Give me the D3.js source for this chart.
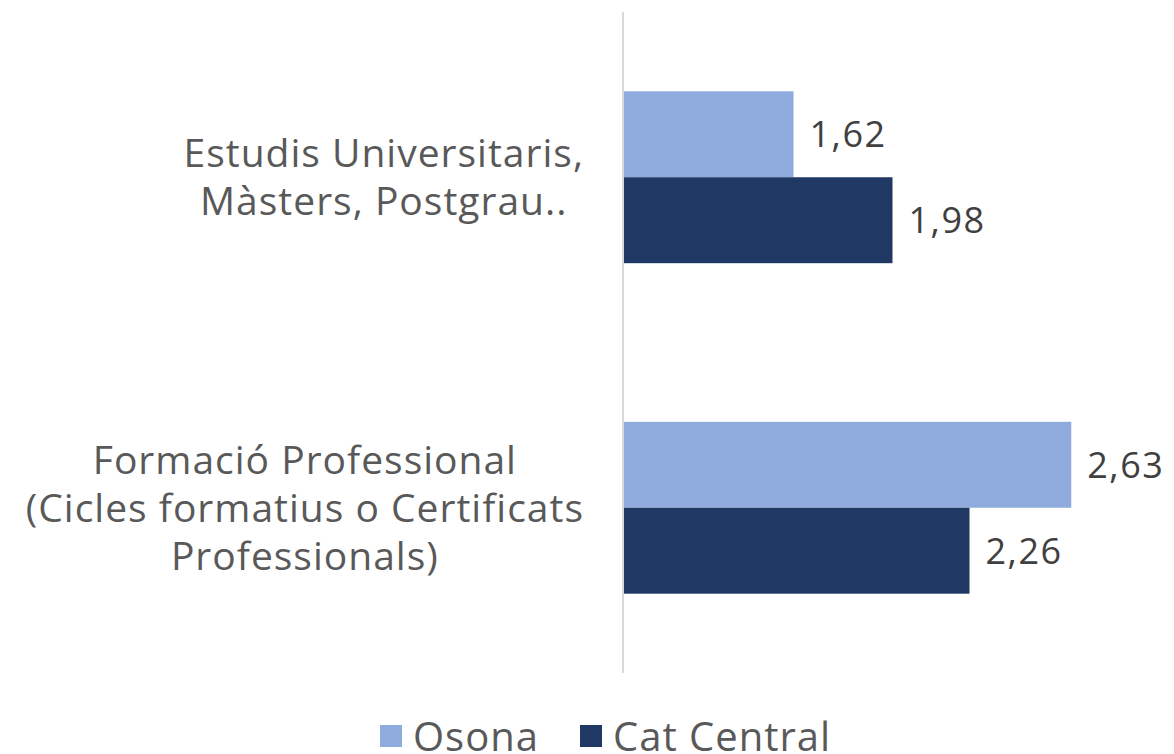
<!DOCTYPE html>
<html lang="ca">
<head>
<meta charset="UTF-8">
<title>Osona vs Cat Central</title>
<script src="https://cdnjs.cloudflare.com/ajax/libs/d3/7.8.5/d3.min.js"></script>
<style>
  html, body { margin: 0; padding: 0; background: #fff; }
  svg { display: block; font-family: "Open Sans", Lato, sans-serif; }
</style>
</head>
<body>
<div id="chart"></div>
<script>
// data
const categories = [
  ["Estudis Universitaris,", "Màsters, Postgrau.."],
  ["Formació Professional", "(Cicles formatius o Certificats", "Professionals)"]
];
const seriesNames = ["Osona", "Cat Central"];
const osona = [1.62, 2.63];
const catCentral = [1.98, 2.26];
const colors = ["#8FAADC", "#203864"];
const xDomain = [1, 3];

const W = 1174, H = 754;
const margin = { top: 12, right: 1, bottom: 81, left: 623 };

const svg = d3.select("#chart").append("svg")
  .attr("width", W).attr("height", H);

const x = d3.scaleLinear().domain(xDomain).range([margin.left, W - margin.right]);
const y = d3.scaleBand().domain(d3.range(categories.length))
  .range([margin.top, H - margin.bottom]).paddingInner(0.48).paddingOuter(0.24);
const ySub = d3.scaleBand().domain(seriesNames).range([0, y.bandwidth()]);

const series = [osona, catCentral];

// bars
seriesNames.forEach((name, s) => {
  const g = svg.append("g");
  g.selectAll("rect")
    .data(series[s])
    .join("rect")
    .attr("x", x(xDomain[0]))
    .attr("y", (d, i) => y(i) + ySub(name))
    .attr("width", d => x(d) - x(xDomain[0]))
    .attr("height", ySub.bandwidth())
    .attr("fill", colors[s]);

  g.selectAll("text")
    .data(series[s])
    .join("text")
    .attr("x", d => x(d) + 16)
    .attr("y", (d, i) => y(i) + ySub(name) + ySub.bandwidth() / 2)
    .attr("dy", "0.36em")
    .attr("fill", "#404040")
    .style("font-size", "36px")
    .style("letter-spacing", "1.5px")
    .text(d => d.toFixed(2).replace(".", ","));
});

// vertical axis line
svg.append("line")
  .attr("x1", x(xDomain[0])).attr("x2", x(xDomain[0]))
  .attr("y1", margin.top).attr("y2", H - margin.bottom)
  .attr("stroke", "#D9D9D9").attr("stroke-width", 2);

// category labels: block right-aligned, lines centred inside the block
const lineH = 48;
const labelRight = 584;
categories.forEach((lines, i) => {
  const cy = y(i) + y.bandwidth() / 2;
  const t = svg.append("text")
    .attr("text-anchor", "middle")
    .attr("fill", "#595959")
    .style("font-size", "39px")
    .style("letter-spacing", "1px");
  const spans = lines.map((ln, k) => t.append("tspan")
    .attr("y", cy + (k - (lines.length - 1) / 2) * lineH)
    .attr("dy", "0.36em")
    .text(ln));
  const maxW = d3.max(spans, sp => sp.node().getComputedTextLength());
  spans.forEach(sp => sp.attr("x", labelRight - maxW / 2));
});

// legend
const legendX = [380, 580];
const legend = svg.append("g").selectAll("g")
  .data(seriesNames)
  .join("g")
  .attr("transform", (d, i) => `translate(${legendX[i]},725)`);
legend.append("rect")
  .attr("width", 22).attr("height", 22)
  .attr("fill", (d, i) => colors[i]);
legend.append("text")
  .attr("x", 33).attr("y", 12).attr("dy", "0.36em")
  .attr("fill", "#595959")
  .style("font-size", "40px")
  .style("letter-spacing", "1px")
  .text(d => d);
</script>
</body>
</html>
